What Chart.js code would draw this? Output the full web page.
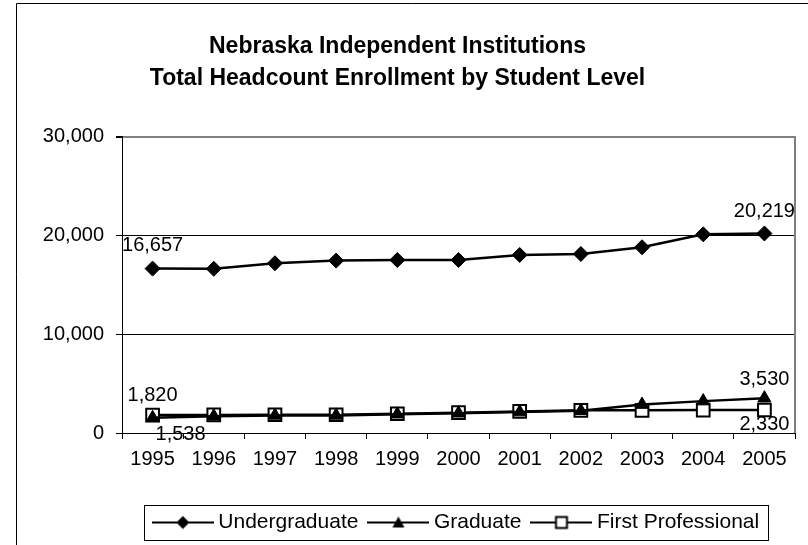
<!DOCTYPE html>
<html lang="en">
<head>
  <meta charset="utf-8">
  <title>Nebraska Independent Institutions</title>
  <script src="https://cdn.jsdelivr.net/npm/chart.js@4.4.1/dist/chart.umd.min.js"></script>
  <style>
    html, body { margin: 0; padding: 0; background: #fff; }
    canvas { display: block; }
  </style>
</head>
<body>
  <canvas id="chart" width="808" height="545"></canvas>
  <script>
    const years = ['1995', '1996', '1997', '1998', '1999', '2000', '2001', '2002', '2003', '2004', '2005'];
    const undergraduate = [16657, 16640, 17200, 17470, 17530, 17530, 18040, 18140, 18820, 20130, 20219];
    const graduate = [1538, 1700, 1780, 1780, 1900, 2000, 2120, 2250, 2880, 3230, 3530];
    const firstProfessional = [1820, 1830, 1850, 1850, 1950, 2060, 2180, 2300, 2300, 2320, 2330];
    const seriesNames = ['Undergraduate', 'Graduate', 'First Professional'];
    const yTicks = [0, 10000, 20000, 30000];

    const FONT = 'Arial, "Liberation Sans", sans-serif';

    // legend swatch: a line with the marker in the middle
    const SW = 62;
    function swatch(style) {
      const c = document.createElement('canvas');
      c.width = SW; c.height = 16;
      const g = c.getContext('2d');
      const m = SW / 2;
      g.strokeStyle = '#000';
      g.lineWidth = 2;
      g.beginPath(); g.moveTo(0, 8); g.lineTo(SW, 8); g.stroke();
      g.beginPath();
      if (style === 'diamond') {
        g.moveTo(m, 1.5); g.lineTo(m + 6.5, 8); g.lineTo(m, 14.5); g.lineTo(m - 6.5, 8); g.closePath();
        g.fillStyle = '#000'; g.fill();
      } else if (style === 'triangle') {
        g.moveTo(m, 2); g.lineTo(m + 6, 13); g.lineTo(m - 6, 13); g.closePath();
        g.fillStyle = '#000'; g.fill();
      } else {
        g.rect(m - 5.5, 2.5, 11, 11);
        g.fillStyle = '#fff'; g.fill();
        g.lineWidth = 2; g.stroke();
      }
      return c;
    }
    const swatches = [swatch('diamond'), swatch('triangle'), swatch('square')];

    // which values get a number written next to them (dataset, index, offset)
    const valueLabels = [
      { ds: 0, i: 0, dx: 0, dy: -23 },
      { ds: 0, i: 10, dx: 0, dy: -22 },
      { ds: 2, i: 0, dx: 0, dy: -20 },
      { ds: 1, i: 0, dx: 28, dy: 17 },
      { ds: 1, i: 10, dx: 0, dy: -19 },
      { ds: 2, i: 10, dx: 0, dy: 14 }
    ];

    const extras = {
      id: 'extras',
      beforeDraw(chart) {
        const ctx = chart.ctx;
        ctx.save();
        ctx.fillStyle = '#fff';
        ctx.fillRect(0, 0, chart.width, chart.height);
        // outer chart frame (left and top edge are visible)
        ctx.strokeStyle = '#000';
        ctx.lineWidth = 1;
        ctx.beginPath();
        ctx.moveTo(16.5, chart.height);
        ctx.lineTo(16.5, 3.5);
        ctx.lineTo(chart.width, 3.5);
        ctx.stroke();
        ctx.restore();
      },
      afterDraw(chart) {
        const ctx = chart.ctx;
        const a = chart.chartArea;
        ctx.save();
        // right edge of plot area
        ctx.strokeStyle = '#808080';
        ctx.lineWidth = 2;
        ctx.beginPath();
        ctx.moveTo(a.right, a.top - 1);
        ctx.lineTo(a.right, a.bottom);
        ctx.stroke();

        // value labels
        ctx.fillStyle = '#000';
        ctx.font = '20px ' + FONT;
        ctx.textAlign = 'center';
        ctx.textBaseline = 'middle';
        valueLabels.forEach(l => {
          const pt = chart.getDatasetMeta(l.ds).data[l.i];
          const v = chart.data.datasets[l.ds].data[l.i];
          ctx.fillText(v.toLocaleString('en-US'), pt.x + l.dx, pt.y + l.dy);
        });

        // box round the legend
        const hb = chart.legend.legendHitBoxes;
        if (hb && hb.length) {
          const first = hb[0], last = hb[hb.length - 1];
          const mid = first.top + first.height / 2;
          const x0 = first.left - 14, x1 = last.left + last.width + 9;
          ctx.strokeStyle = '#000';
          ctx.lineWidth = 1;
          ctx.strokeRect(Math.round(x0) + 0.5, Math.round(mid - 18) + 0.5, Math.round(x1 - x0), 35);
        }
        ctx.restore();
      }
    };

    const data = {
      labels: years,
      datasets: [undergraduate, graduate, firstProfessional].map((vals, k) => ({
        label: seriesNames[k],
        data: vals,
        borderColor: '#000',
        borderWidth: 2.5,
        backgroundColor: k === 2 ? '#fff' : '#000',
        pointBackgroundColor: k === 2 ? '#fff' : '#000',
        pointBorderColor: '#000',
        pointBorderWidth: k === 2 ? 2 : 1,
        pointStyle: ['rectRot', 'triangle', 'rect'][k],
        pointRadius: [7.5, 7.5, 9][k],
        tension: 0
      }))
    };

    const chart = new Chart(document.getElementById('chart'), {
      type: 'line',
      data: data,
      plugins: [extras],
      options: {
        responsive: false,
        animation: false,
        events: [],
        layout: { padding: { left: 0, right: 13, top: 0, bottom: 2 } },
        plugins: {
          tooltip: { enabled: false },
          title: {
            display: true,
            text: ['Nebraska Independent Institutions', 'Total Headcount Enrollment by Student Level'],
            color: '#000',
            font: { family: FONT, size: 23, weight: 'bold', lineHeight: 1.39 },
            padding: { top: 31, bottom: 42 }
          },
          legend: {
            position: 'bottom',
            fullSize: false,
            labels: {
              color: '#000',
              font: { family: FONT, size: 21 },
              usePointStyle: true,
              pointStyleWidth: 50,
              padding: 15,
              generateLabels: (c) => c.data.datasets.map((ds, k) => ({
                text: ds.label,
                pointStyle: swatches[k],
                datasetIndex: k,
                hidden: false,
                lineWidth: 0
              }))
            }
          }
        },
        scales: {
          x: {
            offset: true,
            grid: {
              offset: true,
              drawOnChartArea: false,
              drawTicks: true,
              tickLength: 6,
              tickColor: '#000'
            },
            border: { color: '#000', width: 1 },
            ticks: {
              color: '#000',
              font: { family: FONT, size: 20 },
              padding: 8,
              maxRotation: 0,
              autoSkip: false
            },
            afterFit: (s) => { s.height = 64; }
          },
          y: {
            min: 0,
            max: 30000,
            afterBuildTicks: (s) => { s.ticks = yTicks.map(v => ({ value: v })); },
            grid: {
              color: (c) => c.tick && c.tick.value === 30000 ? '#808080' : '#000',
              lineWidth: (c) => c.tick && c.tick.value === 30000 ? 2 : 1,
              tickLength: 6,
              tickColor: '#000'
            },
            border: { color: '#000', width: 1 },
            ticks: {
              color: '#000',
              font: { family: FONT, size: 20 },
              padding: 12,
              callback: (v) => Number(v).toLocaleString('en-US')
            },
            afterFit: (s) => { s.width = 122; }
          }
        }
      }
    });
  </script>
</body>
</html>
